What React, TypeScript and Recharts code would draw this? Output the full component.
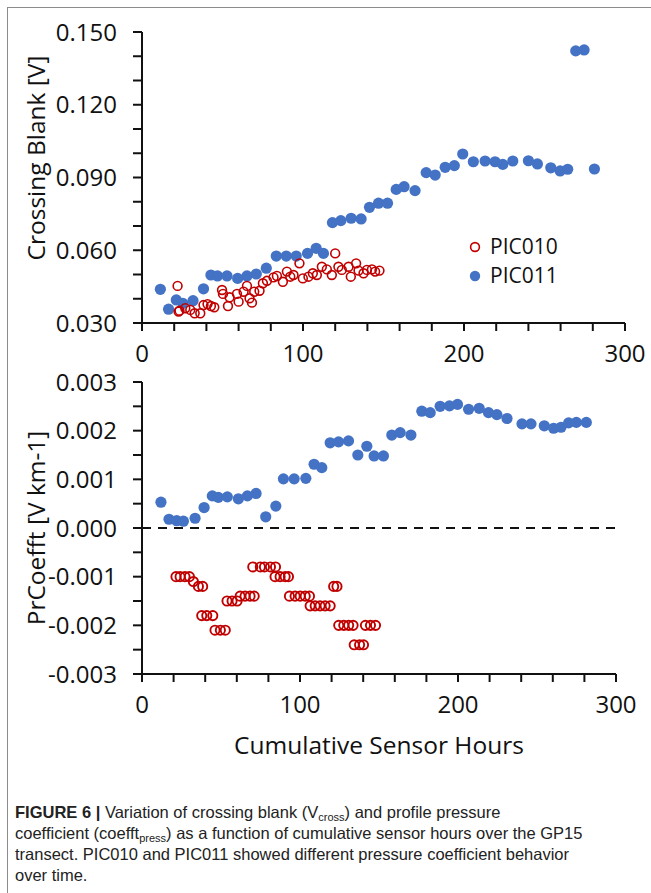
import { Legend, ReferenceLine, Scatter, ScatterChart, XAxis, YAxis } from 'recharts';

// [cumulative sensor hours, value]
const pic010Blank = [
  [22.1, 0.0453], [22.7, 0.0347], [23.3, 0.0351], [26.9, 0.0361], [30, 0.0354], [32.7, 0.034],
  [36.2, 0.034], [38.2, 0.0374], [40.7, 0.0378], [42.8, 0.037], [44.9, 0.0365], [49.7, 0.0436],
  [50.3, 0.042], [53.4, 0.037], [54.4, 0.0406], [59, 0.042], [60, 0.0388], [63.1, 0.0429],
  [65.2, 0.0453], [66.8, 0.0402], [68.3, 0.0384], [69.7, 0.0429], [73, 0.0433], [75.1, 0.0464],
  [77.6, 0.0474], [81.7, 0.0488], [83.8, 0.0494], [87.5, 0.047], [90, 0.0512], [92.1, 0.0491],
  [94.1, 0.0498], [97.8, 0.0546], [99.9, 0.0484], [103.4, 0.0491], [106.1, 0.0505], [108.6, 0.0498],
  [111.7, 0.0532], [114.8, 0.0521], [117.9, 0.0498], [120, 0.0587], [122, 0.0532], [124.1, 0.0519],
  [128.3, 0.0532], [129.7, 0.0491], [133, 0.0546], [134.5, 0.0516], [137.6, 0.0505], [139.7, 0.0519],
  [142.8, 0.0521], [144.8, 0.0512], [147.5, 0.0516],
];

const pic011Blank = [
  [11.4, 0.0439], [16.5, 0.0357], [21.3, 0.0395], [25.4, 0.0381], [31.7, 0.0392], [38.2, 0.0441],
  [42.8, 0.0498], [46.9, 0.0494], [52.8, 0.0494], [59.4, 0.0484], [65.2, 0.0494], [71, 0.0502],
  [77.2, 0.0526], [83.4, 0.0576], [89.6, 0.0576], [95.8, 0.0576], [102.8, 0.0587], [108.2, 0.0608],
  [112.7, 0.0587], [118.3, 0.0714], [123.5, 0.0722], [129.9, 0.0732], [136.1, 0.0729], [141.3, 0.0777],
  [146.9, 0.0794], [152.5, 0.0794], [157.9, 0.0851], [162.8, 0.0862], [169.6, 0.0846], [176.5, 0.092],
  [182.1, 0.091], [188.3, 0.0942], [194, 0.0949], [199.2, 0.0997], [205.8, 0.0965], [213.1, 0.0968],
  [219.3, 0.0965], [224.1, 0.0954], [230.3, 0.0968], [240, 0.0969], [245.6, 0.0956], [253.9, 0.094],
  [259.7, 0.0927], [264.4, 0.0934], [269.4, 0.1422], [274.6, 0.1426], [281, 0.0935],
];

const pic010Coeff = [
  [21.5, -0.001], [24.1, -0.001], [27.2, -0.001], [30, -0.001], [32.5, -0.0011], [35.7, -0.0012],
  [38.4, -0.0012], [37.8, -0.0018], [41, -0.0018], [44.8, -0.0018], [46.2, -0.0021], [49.6, -0.0021],
  [52.7, -0.0021], [53.8, -0.0015], [57, -0.0015], [60.2, -0.0015], [62.1, -0.0014], [65.2, -0.0014],
  [68.4, -0.0014], [71, -0.0014], [70.1, -0.0008], [74.9, -0.0008], [77.5, -0.0008], [81.3, -0.0008],
  [84.5, -0.0008], [84.2, -0.001], [87.4, -0.001], [90.6, -0.001], [92.7, -0.001], [93.3, -0.0014],
  [96.9, -0.0014], [100.1, -0.0014], [103.3, -0.0014], [106, -0.0014], [106.4, -0.0016], [109.6, -0.0016],
  [112.7, -0.0016], [115.9, -0.0016], [119.1, -0.0016], [121.3, -0.0012], [123.4, -0.0012], [124.5, -0.002],
  [127.7, -0.002], [130.8, -0.002], [133.6, -0.002], [134.3, -0.0024], [137.7, -0.0024], [140.2, -0.0024],
  [141.4, -0.002], [144.6, -0.002], [147.8, -0.002],
];

const pic011Coeff = [
  [12, 0.00053], [17.1, 0.00018], [22, 0.00015], [26.2, 0.00014], [33.6, 0.0002], [39.3, 0.00042],
  [44.5, 0.00066], [48.3, 0.00063], [54, 0.00064], [61, 0.0006], [66.7, 0.00066], [72.2, 0.00071],
  [78.3, 0.00023], [84.7, 0.00045], [89.5, 0.00101], [96.3, 0.00101], [103.7, 0.00102], [108.9, 0.00131],
  [113.8, 0.00124], [119.1, 0.00175], [124.4, 0.00177], [130.7, 0.00179], [136.6, 0.0015], [142.3, 0.00168],
  [146.9, 0.00148], [152.8, 0.00148], [158.1, 0.00191], [163.4, 0.00196], [170.2, 0.00191], [177.1, 0.0024],
  [182.4, 0.00237], [188.7, 0.0025], [194.6, 0.00251], [199.7, 0.00254], [206.7, 0.00244], [213.4, 0.00246],
  [219.3, 0.00237], [224.6, 0.00233], [231, 0.00225], [240.5, 0.00214], [246.2, 0.00214], [254.6, 0.0021],
  [260.5, 0.00205], [265.2, 0.00207], [270, 0.00216], [274.9, 0.00217], [281.2, 0.00217],
];

const hourTicks = [0, 20, 40, 60, 80, 100, 120, 140, 160, 180, 200, 220, 240, 260, 280, 300];
const hourLabels = [0, 100, 200, 300];
const blankTicks = [0.03, 0.04, 0.05, 0.06, 0.07, 0.08, 0.09, 0.1, 0.11, 0.12, 0.13, 0.14, 0.15];
const blankLabels = [0.03, 0.06, 0.09, 0.12, 0.15];
const coeffTicks = [-0.003, -0.0025, -0.002, -0.0015, -0.001, -0.0005, 0, 0.0005, 0.001, 0.0015, 0.002, 0.0025, 0.003];
const coeffLabels = [-0.003, -0.002, -0.001, 0, 0.001, 0.002, 0.003];

const BLUE = '#4472C4';
const RED = '#C00000';
const INK = '#111';
const FONT = '"Open Sans", sans-serif';

const toPoints = (rows: number[][]) => rows.map(([x, y]) => ({ x, y }));

const hourFmt = (v: number) => (hourLabels.includes(v) ? String(v) : '');
const blankFmt = (v: number) => (blankLabels.includes(v) ? v.toFixed(3) : '');
const coeffFmt = (v: number) => (coeffLabels.includes(v) ? (v === 0 ? '0.000' : v.toFixed(3)) : '');

const filledDot = (p: any) => <circle cx={p.cx} cy={p.cy} r={5.6} fill={BLUE} />;
const openDotTop = (p: any) => <circle cx={p.cx} cy={p.cy} r={4.4} fill="none" stroke={RED} strokeWidth={1.6} />;
const openDotBottom = (p: any) => <circle cx={p.cx} cy={p.cy} r={4.6} fill="none" stroke={RED} strokeWidth={1.9} />;

const tickStyle = { fontSize: 24, fill: INK, fontFamily: FONT };
const axisLine = { stroke: INK, strokeWidth: 2 };

function yTitle(text: string, cy: number) {
  return () => (
    <text x={35} y={cy} transform={`rotate(-90 35 ${cy})`} textAnchor="middle" dominantBaseline="central"
      fontSize={24.5} fill={INK} fontFamily={FONT}>{text}</text>
  );
}

function xTitle(text: string, cx: number, cy: number) {
  return () => (
    <text x={cx} y={cy} textAnchor="middle" dominantBaseline="central" fontSize={24.5} fill={INK} fontFamily={FONT}>{text}</text>
  );
}

function SeriesLegend() {
  return (
    <div style={{ fontFamily: FONT, fontSize: 21, color: INK, lineHeight: '29px' }}>
      <div style={{ display: 'flex', alignItems: 'center' }}>
        <svg width={12} height={12} style={{ marginRight: 9 }}><circle cx={6} cy={6} r={4.4} fill="none" stroke={RED} strokeWidth={1.6} /></svg>
        PIC010
      </div>
      <div style={{ display: 'flex', alignItems: 'center' }}>
        <svg width={12} height={12} style={{ marginRight: 9 }}><circle cx={6} cy={6} r={5.2} fill={BLUE} /></svg>
        PIC011
      </div>
    </div>
  );
}

export default function App() {
  return (
    <div style={{ position: 'fixed', left: 0, top: 0, width: 651, height: 893, overflow: 'hidden', background: '#fff' }}>
      <div style={{ position: 'absolute', left: 7, top: 7, width: 700, height: 950, border: '1px solid #8c8c8c' }} />

      <div style={{ position: 'absolute', left: 0, top: 0 }}>
        <ScatterChart width={651} height={370} margin={{ top: 32, right: 26, bottom: 0, left: 0 }}>
          <XAxis type="number" dataKey="x" domain={[0, 300]} ticks={hourTicks} interval={0} tickFormatter={hourFmt}
            height={47} tickSize={8} tickMargin={14} tick={tickStyle} axisLine={axisLine} tickLine={axisLine} />
          <YAxis type="number" dataKey="y" domain={[0.03, 0.15]} ticks={blankTicks} interval={0} tickFormatter={blankFmt}
            width={142} tickSize={9} tickMargin={16} tick={tickStyle} axisLine={axisLine} tickLine={axisLine}
            label={{ content: yTitle('Crossing Blank [V]', 158) }} />
          <Legend layout="vertical" align="center" verticalAlign="middle" content={<SeriesLegend />}
            wrapperStyle={{ left: 469, top: 232, width: 150 }} />
          <Scatter name="PIC011" data={toPoints(pic011Blank)} fill={BLUE} shape={filledDot} isAnimationActive={false} />
          <Scatter name="PIC010" data={toPoints(pic010Blank)} fill={RED} shape={openDotTop} isAnimationActive={false} />
        </ScatterChart>
      </div>

      <div style={{ position: 'absolute', left: 0, top: 355 }}>
        <ScatterChart width={651} height={410} margin={{ top: 27, right: 35, bottom: 0, left: 0 }}>
          <XAxis type="number" dataKey="x" domain={[0, 300]} ticks={hourTicks} interval={0} tickFormatter={hourFmt}
            height={91} tickSize={8} tickMargin={14} tick={tickStyle} axisLine={axisLine} tickLine={axisLine}
            label={{ content: xTitle('Cumulative Sensor Hours', 379, 389) }} />
          <YAxis type="number" dataKey="y" domain={[-0.003, 0.003]} ticks={coeffTicks} interval={0} tickFormatter={coeffFmt}
            width={142} tickSize={9} tickMargin={16} tick={tickStyle} axisLine={axisLine} tickLine={axisLine}
            label={{ content: yTitle('PrCoefft [V km-1]', 173) }} />
          <ReferenceLine y={0} stroke={INK} strokeWidth={2} strokeDasharray="9 7" />
          <Scatter name="PIC011" data={toPoints(pic011Coeff)} fill={BLUE} shape={filledDot} isAnimationActive={false} />
          <Scatter name="PIC010" data={toPoints(pic010Coeff)} fill={RED} shape={openDotBottom} isAnimationActive={false} />
        </ScatterChart>
      </div>

      <div style={{ position: 'absolute', left: 15, top: 802, width: 630, fontFamily: '"Liberation Sans Narrow", "Liberation Sans", sans-serif',
        fontSize: 16.5, lineHeight: '21px', color: '#222' }}>
        <b>FIGURE 6 |</b> Variation of crossing blank (V<span style={{ fontSize: 11, verticalAlign: -3, lineHeight: 0 }}>cross</span>) and profile pressure<br />
        coefficient (coefft<span style={{ fontSize: 11, verticalAlign: -3, lineHeight: 0 }}>press</span>) as a function of cumulative sensor hours over the GP15<br />
        transect. PIC010 and PIC011 showed different pressure coefficient behavior<br />
        over time.
      </div>
    </div>
  );
}
